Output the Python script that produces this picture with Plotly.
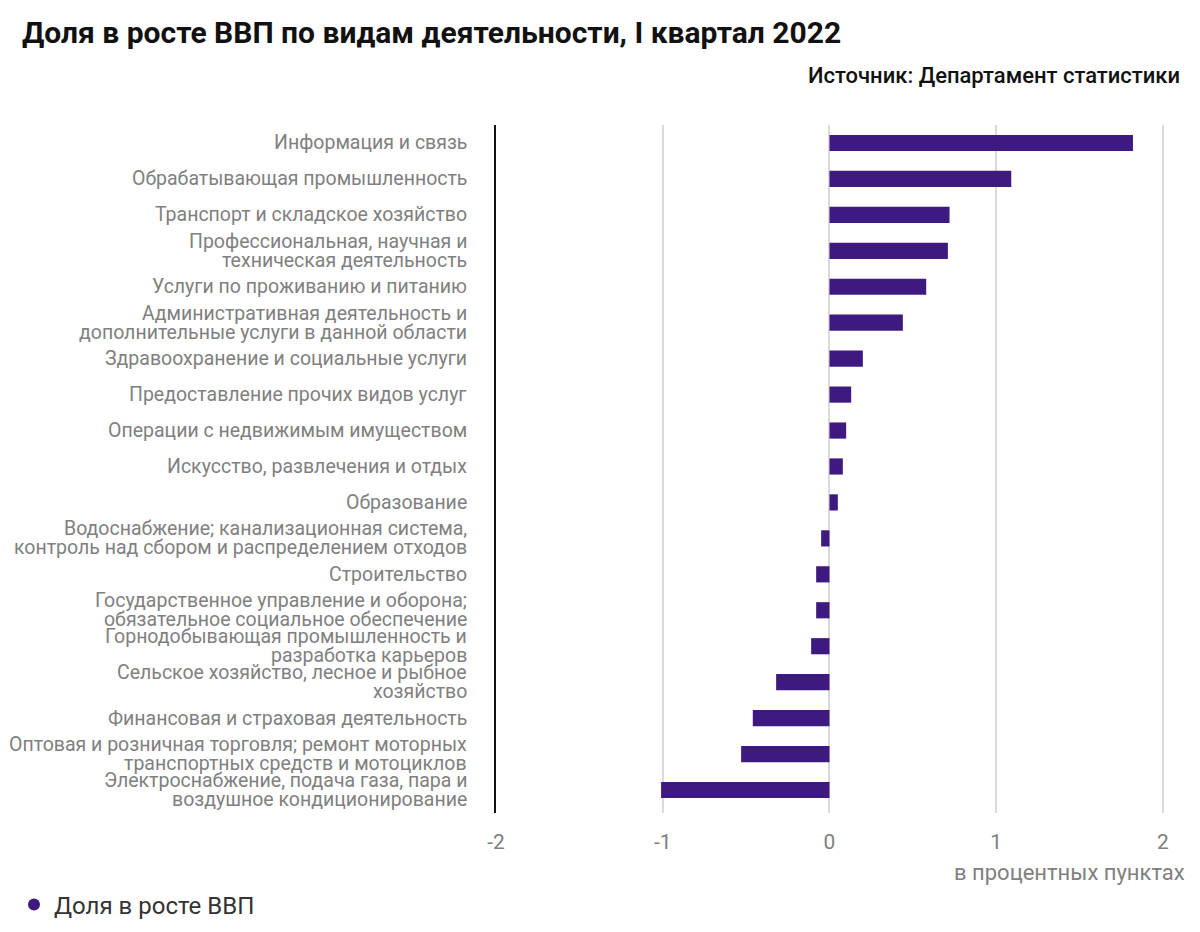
import plotly.graph_objects as go

categories = [
    "Информация и связь",
    "Обрабатывающая промышленность",
    "Транспорт и складское хозяйство",
    "Профессиональная, научная и<br>техническая деятельность",
    "Услуги по проживанию и питанию",
    "Административная деятельность и<br>дополнительные услуги в данной области",
    "Здравоохранение и социальные услуги",
    "Предоставление прочих видов услуг",
    "Операции с недвижимым имуществом",
    "Искусство, развлечения и отдых",
    "Образование",
    "Водоснабжение; канализационная система,<br>контроль над сбором и распределением отходов",
    "Строительство",
    "Государственное управление и оборона;<br>обязательное социальное обеспечение",
    "Горнодобывающая промышленность и<br>разработка карьеров",
    "Сельское хозяйство, лесное и рыбное<br>хозяйство",
    "Финансовая и страховая деятельность",
    "Оптовая и розничная торговля; ремонт моторных<br>транспортных средств и мотоциклов",
    "Электроснабжение, подача газа, пара и<br>воздушное кондиционирование",
]
values = [1.82, 1.09, 0.72, 0.71, 0.58, 0.44, 0.20, 0.13, 0.10, 0.08, 0.05,
          -0.05, -0.08, -0.08, -0.11, -0.32, -0.46, -0.53, -1.01]
x_ticks = [-2, -1, 0, 1, 2]
x_tick_labels = ["-2", "-1", "0", "1", "2"]
series_name = "Доля в росте ВВП"
title_text = "Доля в росте ВВП по видам деятельности, I квартал 2022"
source_text = "Источник: Департамент статистики"
x_title = "в процентных пунктах"

bar_color = "#3e1a80"
label_color = "#808080"
FONT = "Roboto, sans-serif"

fig = go.Figure()
fig.add_trace(go.Bar(
    x=values, y=categories, orientation="h",
    marker=dict(color=bar_color, line=dict(width=0)),
    width=0.45, showlegend=False, name=series_name,
))
fig.add_trace(go.Scatter(
    x=[None], y=[None], mode="markers", name=series_name,
    marker=dict(color=bar_color, size=13, symbol="circle"),
    showlegend=True,
))

W, H = 1200, 932
L, R, T, B = 496, 12, 125, 119

fig.update_layout(
    width=W, height=H,
    margin=dict(l=L, r=R, t=T, b=B),
    paper_bgcolor="white", plot_bgcolor="white",
    font=dict(family=FONT, color=label_color, size=19),
    title=dict(
        text=title_text, x=22 / W, xanchor="left", xref="container",
        y=1 - 32 / H, yanchor="middle", yref="container",
        font=dict(family=FONT, size=30, color="#111111", weight="bold"),
    ),
    legend=dict(
        xref="container", yref="container", x=14 / W, y=1 - 905 / H,
        xanchor="left", yanchor="middle", orientation="h",
        font=dict(family=FONT, size=24, color="#333333"),
        itemsizing="constant",
    ),
    xaxis=dict(
        range=[-2, 2.15], tickvals=x_ticks, ticktext=x_tick_labels,
        showgrid=True, gridcolor="#dadada", gridwidth=1.5,
        zeroline=True, zerolinecolor="#dadada", zerolinewidth=1.5,
        ticks="", ticklabelstandoff=14,
        tickfont=dict(family=FONT, size=21, color=label_color),
        fixedrange=True,
    ),
    yaxis=dict(
        categoryorder="array", categoryarray=categories, autorange="reversed",
        showline=True, linecolor="#111111", linewidth=2,
        showgrid=False, ticks="", showticklabels=False,
    ),
)

# Category labels, one text per line, with tight line spacing as in the reference
LINE_H = 19
for cat in categories:
    lines = cat.split("<br>")
    n = len(lines)
    for i, line in enumerate(lines):
        fig.add_annotation(
            text=line, xref="x", yref="y", x=-2, y=cat,
            xanchor="right", yanchor="middle", xshift=-27,
            yshift=((n - 1) / 2 - i) * LINE_H,
            showarrow=False, font=dict(family=FONT, size=19.5, color=label_color),
        )

fig.add_annotation(
    text=source_text, xref="paper", yref="paper",
    x=(1182 - L) / (W - L - R), y=(H - B - 76) / (H - T - B),
    xanchor="right", yanchor="middle", showarrow=False,
    font=dict(family=FONT, size=22, color="#111111", weight=500),
)
fig.add_annotation(
    text=x_title, xref="paper", yref="paper",
    x=(1187 - L) / (W - L - R), y=(H - B - 872) / (H - T - B),
    xanchor="right", yanchor="middle", showarrow=False,
    font=dict(family=FONT, size=22, color=label_color),
)

fig.write_html("out.html")
